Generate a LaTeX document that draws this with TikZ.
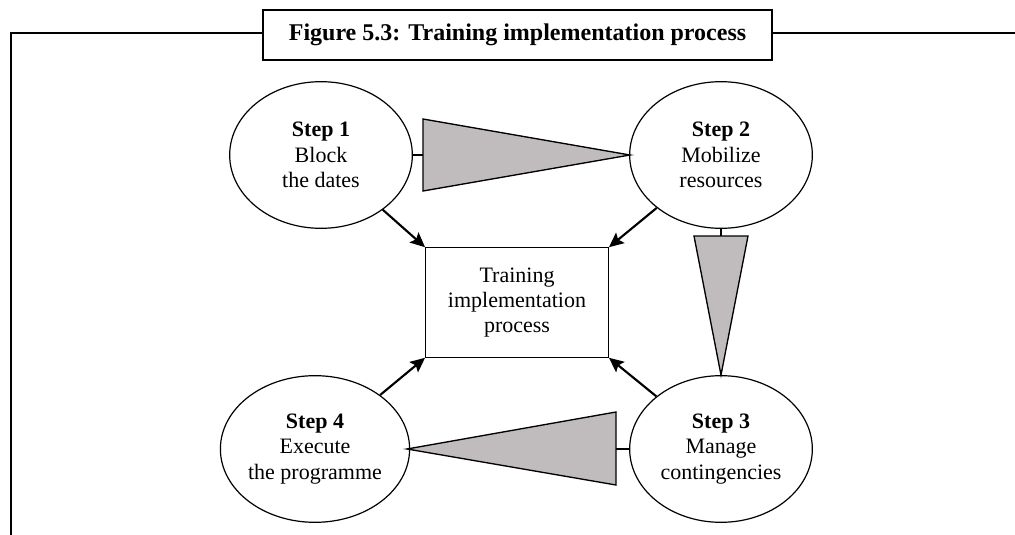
\documentclass[tikz,border=0pt]{standalone}
\usepackage{fontspec}
\setmainfont{Liberation Serif}
\usetikzlibrary{shapes.geometric,arrows.meta}
\definecolor{tri}{RGB}{192,188,190}
\tikzset{
  stepnode/.style={ellipse,draw,line width=0.9pt,minimum width=137pt,minimum height=110pt,align=center,inner sep=0pt,font=\fontsize{16.5}{19}\selectfont},
  centrebox/.style={rectangle,draw,line width=0.9pt,minimum width=137pt,minimum height=82pt,align=center,font=\fontsize{16.5}{19}\selectfont},
  titlebox/.style={rectangle,draw,line width=1.8pt,minimum width=382pt,minimum height=37.5pt,font=\fontsize{18}{20}\selectfont\bfseries},
  flowarrow/.style={line width=1.6pt,-{Stealth[length=11pt,width=10pt,inset=2pt]}},
  wedge/.style={draw,fill=tri,line width=1pt,line join=miter},
  stub/.style={line width=1.4pt},
  frame/.style={line width=1.6pt}
}
\begin{document}
\begin{tikzpicture}[x=0.75pt,y=-0.75pt]
\useasboundingbox (0,0) rectangle (1015,535);
% title and frame
\node[titlebox] (title) at (517.5,35) {Figure 5.3: Training implementation process};
\coordinate (fl) at (11,33);
\coordinate (fb) at (11,536);
\coordinate (fr) at (1016,33);
\draw[frame] (fb) -- (fl) -- (fl -| title.west);
\draw[frame] (fl -| title.east) -- (fr);
% nodes
\node[stepnode] (s1) at (321,155) {\textbf{Step 1}\\Block\\the dates};
\node[stepnode] (s2) at (721,155) {\textbf{Step 2}\\Mobilize\\resources};
\node[stepnode] (s3) at (721,449) {\textbf{Step 3}\\Manage\\contingencies};
\node[stepnode] (s4) at (315,449) {\textbf{Step 4}\\Execute\\the programme};
\node[centrebox] (c) at (517,302.5) {Training\\implementation\\process};
% wedges
\coordinate (t1) at (423,155);
\draw[wedge] (423,119) -- (630,155) -- (423,191) -- cycle;
\draw[stub] (s1.east) -- (t1);
\coordinate (t2) at (721,236);
\draw[wedge] (694,236) -- (748,236) -- (721,375) -- cycle;
\draw[stub] (s2.south) -- (t2);
\coordinate (t3) at (616,449);
\draw[wedge] (616,412) -- (616,485) -- (407,449) -- cycle;
\draw[stub] (s3.west) -- (t3);
% arrows
\draw[flowarrow] (s1) -- (c.north west);
\draw[flowarrow] (s2) -- (c.north east);
\draw[flowarrow] (s3) -- (c.south east);
\draw[flowarrow] (s4) -- (c.south west);
\end{tikzpicture}
\end{document}
